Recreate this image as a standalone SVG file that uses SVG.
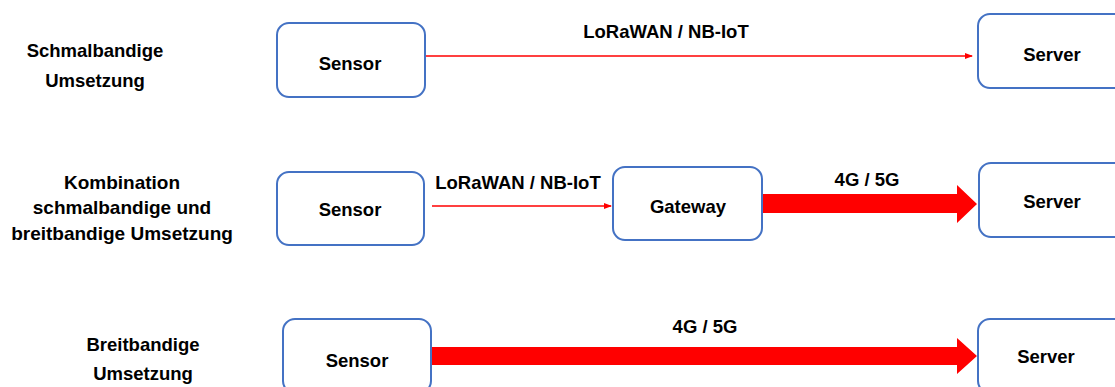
<svg xmlns="http://www.w3.org/2000/svg" width="1115" height="387" viewBox="0 0 1115 387">
<style>
text{font-family:"Liberation Sans",Arial,sans-serif;font-weight:bold;font-size:18.5px;fill:#000;text-anchor:middle}
.box{fill:#fff;stroke:#4472C4;stroke-width:2}
.thin{stroke:#FF0000;stroke-width:1.5;fill:none}
.fat{fill:#FF0000;stroke:none}
</style>
<defs>
<marker id="ah" markerWidth="8" markerHeight="6" refX="7" refY="3" orient="auto" markerUnits="userSpaceOnUse">
<path d="M0,0 L8,3 L0,6 Z" fill="#FF0000"/>
</marker>
</defs>
<g id="labels">
<text x="95" y="57">Schmalbandige</text>
<text x="95" y="87">Umsetzung</text>
<text x="122" y="189" style="font-size:19px">Kombination</text>
<text x="122" y="214" style="font-size:19px">schmalbandige und</text>
<text x="122" y="240" style="font-size:19px">breitbandige Umsetzung</text>
<text x="143" y="351">Breitbandige</text>
<text x="143" y="380">Umsetzung</text>
</g>
<g id="connectors">
<line class="thin" x1="426" y1="56" x2="972" y2="56" marker-end="url(#ah)"/>
<text x="666" y="38">LoRaWAN / NB-IoT</text>
<line class="thin" x1="432" y1="206" x2="611" y2="206" marker-end="url(#ah)"/>
<text x="518" y="189">LoRaWAN / NB-IoT</text>
<path class="fat" d="M762,194 L957,194 L957,185 L977,204 L957,223 L957,213 L762,213 Z"/>
<text x="867" y="186">4G / 5G</text>
<path class="fat" d="M432,347 L957,347 L957,338 L977,356 L957,374 L957,365 L432,365 Z"/>
<text x="705" y="333">4G / 5G</text>
</g>
<g id="row1-sensor">
<rect class="box" x="277" y="23" width="148" height="74" rx="12"/>
<text x="350" y="70">Sensor</text>
</g>
<g id="row1-server">
<rect class="box" x="978" y="14" width="148" height="74" rx="12"/>
<text x="1052" y="61">Server</text>
</g>
<g id="row2-sensor">
<rect class="box" x="277" y="172" width="147" height="73" rx="12"/>
<text x="350" y="216">Sensor</text>
</g>
<g id="row2-gateway">
<rect class="box" x="613" y="167" width="149" height="73" rx="12"/>
<text x="688" y="213">Gateway</text>
</g>
<g id="row2-server">
<rect class="box" x="979" y="163" width="148" height="74" rx="12"/>
<text x="1052" y="208">Server</text>
</g>
<g id="row3-sensor">
<rect class="box" x="283" y="319" width="148" height="74" rx="12"/>
<text x="357" y="367">Sensor</text>
</g>
<g id="row3-server">
<rect class="box" x="978" y="319" width="148" height="74" rx="12"/>
<text x="1046" y="363">Server</text>
</g>
</svg>
